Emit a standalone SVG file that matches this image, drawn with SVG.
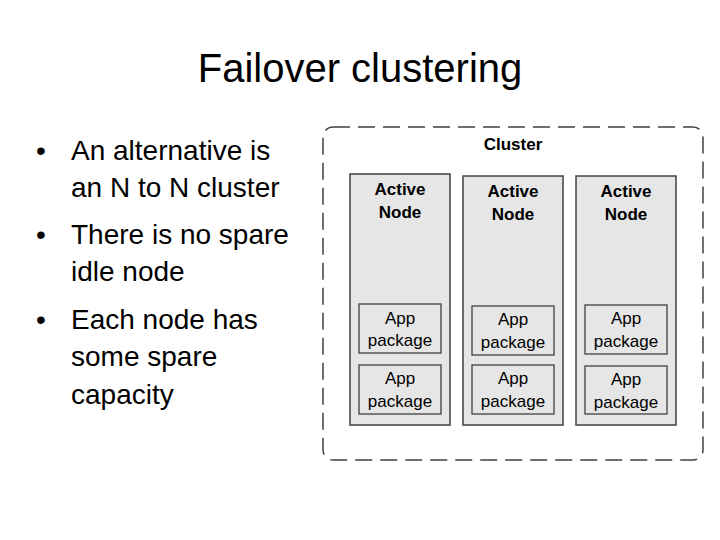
<svg xmlns="http://www.w3.org/2000/svg" width="720" height="540" viewBox="0 0 720 540">
<style>
text{font-family:"Liberation Sans",Arial,sans-serif;fill:#000}
.title{font-size:40px}
.b{font-size:28px}
.node{fill:#e6e6e6;stroke:#404040;stroke-width:1.5}
.app{fill:#e6e6e6;stroke:#404040;stroke-width:1.3}
.nl{font-size:17px;font-weight:bold;text-anchor:middle}
.al{font-size:17px;text-anchor:middle}
</style>
<rect width="720" height="540" fill="#fff"/>
<text class="title" x="360" y="82" text-anchor="middle">Failover clustering</text>
<g class="b">
<text x="36" y="160">•</text><text x="71" y="160">An alternative is</text>
<text x="71" y="197">an N to N cluster</text>
<text x="36" y="244">•</text><text x="71" y="244">There is no spare</text>
<text x="71" y="281">idle node</text>
<text x="36" y="329">•</text><text x="71" y="329">Each node has</text>
<text x="71" y="366">some spare</text>
<text x="71" y="404">capacity</text>
</g>
<g id="cluster">
<rect x="323" y="127" width="380" height="333" rx="10" fill="none" stroke="#404040" stroke-width="1.5" stroke-dasharray="17,8"/>
<text x="513" y="150" font-size="17" font-weight="bold" text-anchor="middle">Cluster</text>
</g>
<g id="node1">
<rect class="node" x="350" y="174" width="100" height="251"/>
<text class="nl" x="400" y="195">Active</text><text class="nl" x="400" y="218">Node</text>
</g>
<g id="node2">
<rect class="node" x="463" y="176" width="100" height="249"/>
<text class="nl" x="513" y="197">Active</text><text class="nl" x="513" y="220">Node</text>
</g>
<g id="node3">
<rect class="node" x="576" y="176" width="100" height="249"/>
<text class="nl" x="626" y="197">Active</text><text class="nl" x="626" y="220">Node</text>
</g>
<g id="app1a"><rect class="app" x="359" y="304" width="82" height="49"/><text class="al" x="400" y="324">App</text><text class="al" x="400" y="346">package</text></g>
<g id="app1b"><rect class="app" x="359" y="365" width="82" height="49"/><text class="al" x="400" y="384">App</text><text class="al" x="400" y="407">package</text></g>
<g id="app2a"><rect class="app" x="472" y="306" width="82" height="49" stroke-width="2"/><text class="al" x="513" y="325">App</text><text class="al" x="513" y="348">package</text></g>
<g id="app2b"><rect class="app" x="472" y="365" width="82" height="49"/><text class="al" x="513" y="384">App</text><text class="al" x="513" y="407">package</text></g>
<g id="app3a"><rect class="app" x="585" y="305" width="82" height="49"/><text class="al" x="626" y="324">App</text><text class="al" x="626" y="347">package</text></g>
<g id="app3b"><rect class="app" x="585" y="366" width="82" height="48"/><text class="al" x="626" y="385">App</text><text class="al" x="626" y="408">package</text></g>
<g id="connectors"/>
</svg>
